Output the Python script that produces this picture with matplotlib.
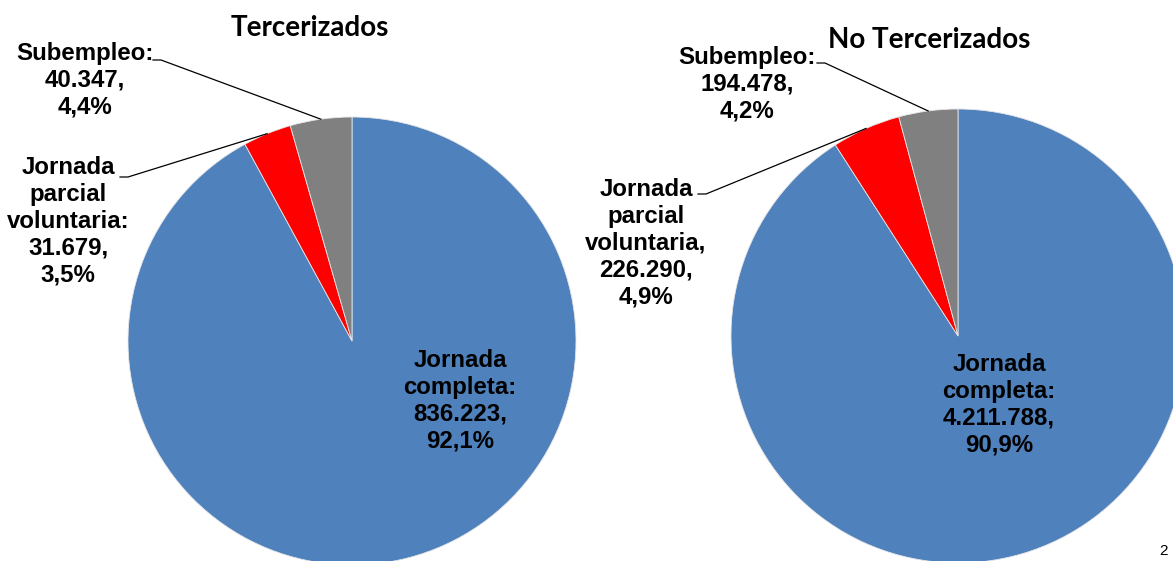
"""Distribución por tipo de jornada: tercerizados vs no tercerizados."""
import numpy as np
import matplotlib.pyplot as plt

# %%
# data
categorias = ["Jornada completa", "Jornada parcial voluntaria", "Subempleo"]
terc_vals = [836223, 31679, 40347]
terc_pct = ["92,1%", "3,5%", "4,4%"]
noterc_vals = [4211788, 226290, 194478]
noterc_pct = ["90,9%", "4,9%", "4,2%"]
titulos = ["Tercerizados", "No Tercerizados"]
colores = ["#4F81BD", "#FF0000", "#808080"]

W, H = 1173, 561


def fmt(v):
    return f"{v:,}".replace(",", ".")


def Y(y):
    # pixel row -> data y
    return H - y


fig = plt.figure(figsize=(W / 100, H / 100), dpi=100)
ax = fig.add_axes([0, 0, 1, 1])

lab_font = dict(family="Liberation Sans", fontweight="bold", fontsize=17.3,
                ha="center", va="center", linespacing=1.22)
tit_font = dict(family="Lato", fontweight="bold", fontsize=20, ha="center", va="center")

pies = [
    # values, pct, center, radius, title pos, label positions, label separators, leader starts
    (terc_vals, terc_pct, (352, 341), 224, (310, 28),
     [(460, 401), (68, 221), (85, 80)], [":", ":", ":"],
     [None, (120, 177), (153, 60)]),
    (noterc_vals, noterc_pct, (958, 336), 227, (929, 40),
     [(999, 405), (646, 243), (747, 84)], [":", ",", ":"],
     [None, (698, 194), (817, 63)]),
]

for (vals, pct, c, r, tpos, lpos, seps, starts), titulo in zip(pies, titulos):
    wedges, _ = ax.pie(vals, colors=colores, startangle=90, counterclock=False,
                       center=(c[0], Y(c[1])), radius=r,
                       wedgeprops=dict(edgecolor="#e6e6e6", linewidth=0.6))
    ax.text(tpos[0], Y(tpos[1]), titulo, **tit_font)
    for i, w in enumerate(wedges):
        nombre = categorias[i].replace(" ", "\n")
        txt = f"{nombre}{seps[i]}\n{fmt(vals[i])},\n{pct[i]}"
        ax.text(lpos[i][0], Y(lpos[i][1]), txt, **lab_font)
        if starts[i] is not None:
            ang = np.deg2rad((w.theta1 + w.theta2) / 2)
            ex = c[0] + r * np.cos(ang)
            ey = Y(c[1]) + r * np.sin(ang)
            sx, sy = starts[i]
            ax.plot([sx, sx + 8, ex], [Y(sy), Y(sy), ey], color="black", lw=0.9)

# page number in the bottom-right corner
ax.text(1164, Y(551), "2", fontsize=11, family="Liberation Sans", ha="center", va="center")

ax.set_xlim(0, W)
ax.set_ylim(0, H)
ax.set_aspect("equal")
ax.axis("off")

fig.savefig("out.png", dpi=100)
